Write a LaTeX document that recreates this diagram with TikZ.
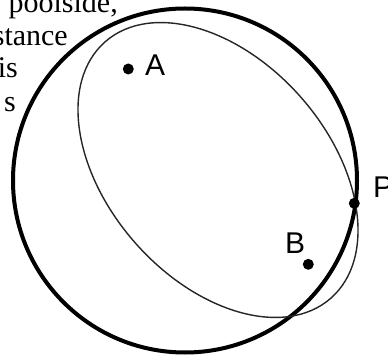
\documentclass[tikz,border=0pt]{standalone}
\usepackage{fontspec}
\setmainfont{Liberation Serif}
\newfontfamily\lsans{Liberation Sans}
\begin{document}
\begin{tikzpicture}[x=1pt,y=1pt,
  bigcircle/.style={line width=4pt,draw=black},
  orbit/.style={line width=1.4pt,draw=black!85},
  dotnode/.style={circle,fill=black,inner sep=0pt,minimum size=11pt},
  lbl/.style={inner sep=0pt,font=\lsans\fontsize{30}{33}\selectfont},
  prose/.style={inner sep=0pt,font=\fontsize{30}{33}\selectfont}]
\useasboundingbox (0,0) rectangle (388,356);
\clip (0,0) rectangle (388,356);
% text fragments at left
\node[prose,anchor=base east] (t1) at (118,343) {poolside,};
\node[prose,anchor=base east] (t2) at (68,310.5) {stance};
\node[prose,anchor=base east] (t3) at (18,278) {is};
\node[prose,anchor=base east] (t4) at (16,244) {s};
% shapes
\draw[bigcircle] (185,175.5) circle[radius=172];
\draw[orbit] (218,186) ellipse[x radius=170.8,y radius=110.3,rotate=-48.6];
% points
\node[dotnode] (A) at (128.3,287) {};
\node[dotnode] (B) at (308.3,91.7) {};
\node[dotnode] (P) at (354.3,152.7) {};
\node[lbl,anchor=base west] (lA) at (145,280) {A};
\node[lbl,anchor=base west] (lB) at (284.8,102) {B};
\node[lbl,anchor=base west] (lP) at (372.8,158) {P};
\end{tikzpicture}
\end{document}
